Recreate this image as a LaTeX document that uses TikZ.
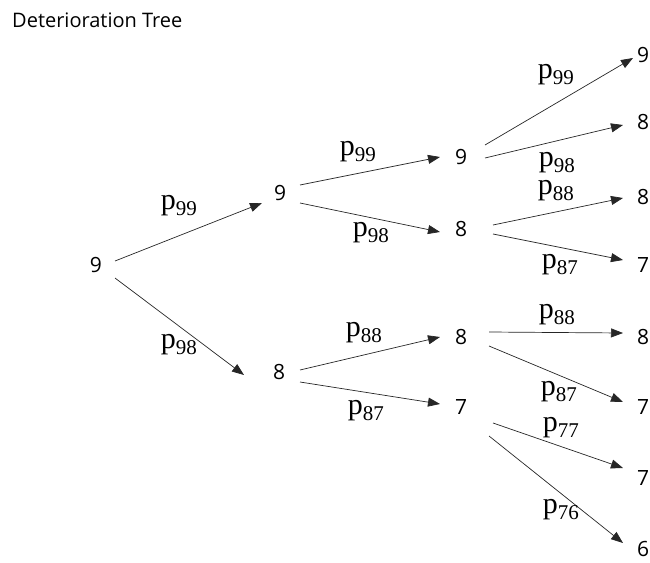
\documentclass[tikz,border=0pt]{standalone}
\usepackage{fontspec}
\setmainfont{Liberation Serif}
\newfontfamily\numfont{Open Sans}
\usetikzlibrary{arrows.meta}
\begin{document}
\begin{tikzpicture}[x=1pt,y=-1pt,
  num/.style={font=\numfont\fontsize{21}{24}\selectfont, inner sep=0pt},
  lab/.style={font=\fontsize{30}{34}\selectfont, inner sep=0pt},
  edge/.style={draw=black!85, line width=0.7pt, -{Triangle[length=12pt,width=9pt]}}]
\useasboundingbox (0,0) rectangle (650,562);
\node[anchor=west, font=\numfont\fontsize{20}{24}\selectfont, inner sep=0pt] (title) at (12,20) {Deterioration Tree};
% nodes
\node[num] (r) at (96,265) {9};
\node[num] (a) at (280,193) {9};
\node[num] (b) at (279,372) {8};
\node[num] (aa) at (461,157) {9};
\node[num] (ab) at (461,229) {8};
\node[num] (ba) at (461,337) {8};
\node[num] (bb) at (461,407) {7};
\node[num] (aaa) at (643,55) {9};
\node[num] (aab) at (643,122) {8};
\node[num] (aba) at (643,197) {8};
\node[num] (abb) at (643,265) {7};
\node[num] (baa) at (643,337) {8};
\node[num] (bab) at (643,407) {7};
\node[num] (bba) at (643,478) {7};
\node[num] (bbb) at (643,549) {6};
% edges
\draw[edge] ([shift={(19,-4)}]r.center) -- ([shift={(-18,10)}]a.center);
\draw[edge] ([shift={(19,13)}]r.center) -- ([shift={(-35,3)}]b.center);
\draw[edge] ([shift={(20,-8)}]a.center) -- ([shift={(-21,0)}]aa.center);
\draw[edge] ([shift={(20,10)}]a.center) -- ([shift={(-21,3)}]ab.center);
\draw[edge] ([shift={(21,-2)}]b.center) -- ([shift={(-21,0)}]ba.center);
\draw[edge] ([shift={(21,10)}]b.center) -- ([shift={(-21,-3)}]bb.center);
\draw[edge] ([shift={(24,-12)}]aa.center) -- ([shift={(-10,3)}]aaa.center);
\draw[edge] ([shift={(24,1)}]aa.center) -- ([shift={(-20,3)}]aab.center);
\draw[edge] ([shift={(32,-4)}]ab.center) -- ([shift={(-20,1)}]aba.center);
\draw[edge] ([shift={(32,5)}]ab.center) -- ([shift={(-20,-5)}]abb.center);
\draw[edge] ([shift={(28,-5)}]ba.center) -- ([shift={(-20,-4)}]baa.center);
\draw[edge] ([shift={(28,9)}]ba.center) -- ([shift={(-20,-5)}]bab.center);
\draw[edge] ([shift={(32,16)}]bb.center) -- ([shift={(-20,-10)}]bba.center);
\draw[edge] ([shift={(28,29)}]bb.center) -- ([shift={(-20,-6)}]bbb.center);
% labels
\node[lab] (l1) at (179,206) {p\textsubscript{99}};
\node[lab] (l2) at (179,345) {p\textsubscript{98}};
\node[lab] (l3) at (358,152) {p\textsubscript{99}};
\node[lab] (l4) at (371,233) {p\textsubscript{98}};
\node[lab] (l5) at (364,333) {p\textsubscript{88}};
\node[lab] (l6) at (366,411) {p\textsubscript{87}};
\node[lab] (l7) at (556,75) {p\textsubscript{99}};
\node[lab] (l8) at (557,163) {p\textsubscript{98}};
\node[lab] (l9) at (556,191) {p\textsubscript{88}};
\node[lab] (l10) at (560,265) {p\textsubscript{87}};
\node[lab] (l11) at (557,315) {p\textsubscript{88}};
\node[lab] (l12) at (559,392) {p\textsubscript{87}};
\node[lab] (l13) at (561,428) {p\textsubscript{77}};
\node[lab] (l14) at (561,510) {p\textsubscript{76}};
\end{tikzpicture}
\end{document}
